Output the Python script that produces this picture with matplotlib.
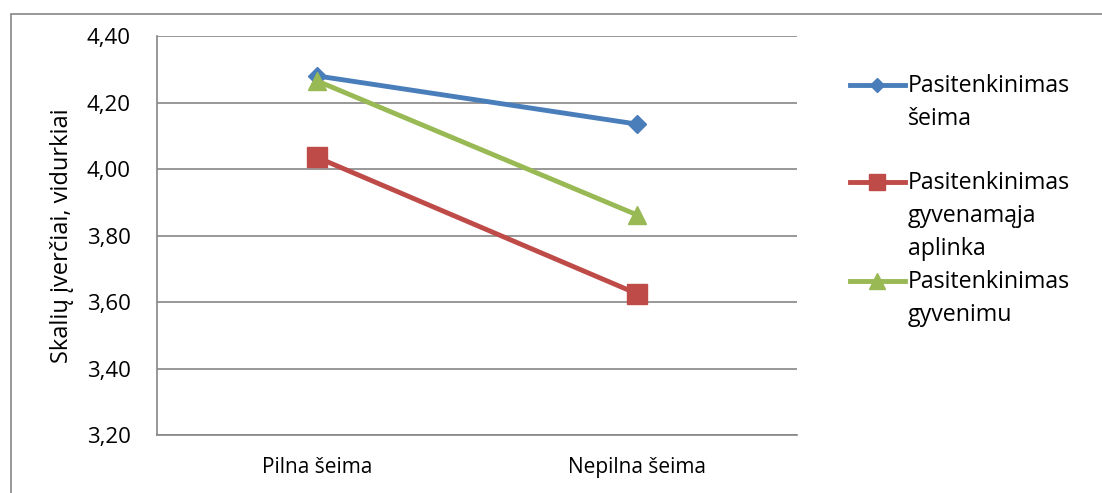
import matplotlib.pyplot as plt
from matplotlib.lines import Line2D
from matplotlib.patches import Rectangle

plt.rcParams['font.family'] = ['Open Sans', 'DejaVu Sans']

categories = ['Pilna šeima', 'Nepilna šeima']
seima = [4.28, 4.135]
aplinka = [4.035, 3.625]
gyvenimu = [4.265, 3.862]
labels = ['Pasitenkinimas\nšeima', 'Pasitenkinimas\ngyvenamąja\naplinka', 'Pasitenkinimas\ngyvenimu']
yticks = [3.20, 3.40, 3.60, 3.80, 4.00, 4.20, 4.40]

colors = ['#4A7EBB', '#BE4B48', '#98B954']
markers = ['D', 's', '^']
msizes = [9, 14, 13.5]
leg_msizes = [7.5, 12, 11]

W, H = 1102, 493
fig = plt.figure(figsize=(W / 100, H / 100), dpi=100)
ax = fig.add_axes([157 / W, 1 - 435 / H, 640 / W, 399 / H])

# outer chart frame
fig.add_artist(Rectangle((11 / W, -0.1), 1.2, 1 - 14 / H + 0.1, transform=fig.transFigure,
                         fill=False, edgecolor='#868686', linewidth=1.2))

x = range(len(categories))
for vals, c, m, ms in zip([seima, aplinka, gyvenimu], colors, markers, msizes):
    ax.plot(x, vals, color=c, marker=m, markersize=ms, linewidth=3.5, zorder=3)

ax.set_xlim(-0.5, 1.5)
ax.set_ylim(3.20, 4.40)
ax.set_yticks(yticks)
ax.set_yticklabels([f'{v:.2f}'.replace('.', ',') for v in yticks], fontsize=16)
ax.set_xticks(list(x))
ax.set_xticklabels(categories, fontsize=15)
ax.tick_params(axis='x', length=0, pad=16)
ax.tick_params(axis='y', length=0, pad=19)
ax.yaxis.grid(True, color='#868686', linewidth=1.2)
ax.set_axisbelow(True)
for s in ['top', 'right']:
    ax.spines[s].set_visible(False)
for s in ['left', 'bottom']:
    ax.spines[s].set_color('#868686')
    ax.spines[s].set_linewidth(1.2)
ax.set_ylabel('Skalių įverčiai, vidurkiai', fontsize=17)
ax.yaxis.set_label_coords((74 - 157) / 640, 0.5)

# legend drawn like the original (handle aligned with first text line)
leg_y = [85, 182, 281]
for lab, c, m, ms, yy in zip(labels, colors, markers, leg_msizes, leg_y):
    yf = 1 - yy / H
    fig.add_artist(Line2D([850 / W, 905 / W], [yf, yf], transform=fig.transFigure,
                          color=c, linewidth=3.5))
    fig.add_artist(Line2D([877 / W], [yf], transform=fig.transFigure,
                          color=c, marker=m, markersize=ms, linestyle='none'))
    fig.text(908 / W, yf + 11 / H, lab, fontsize=16.7, va='top', ha='left', linespacing=1.5)

fig.savefig('out.png', dpi=100)
